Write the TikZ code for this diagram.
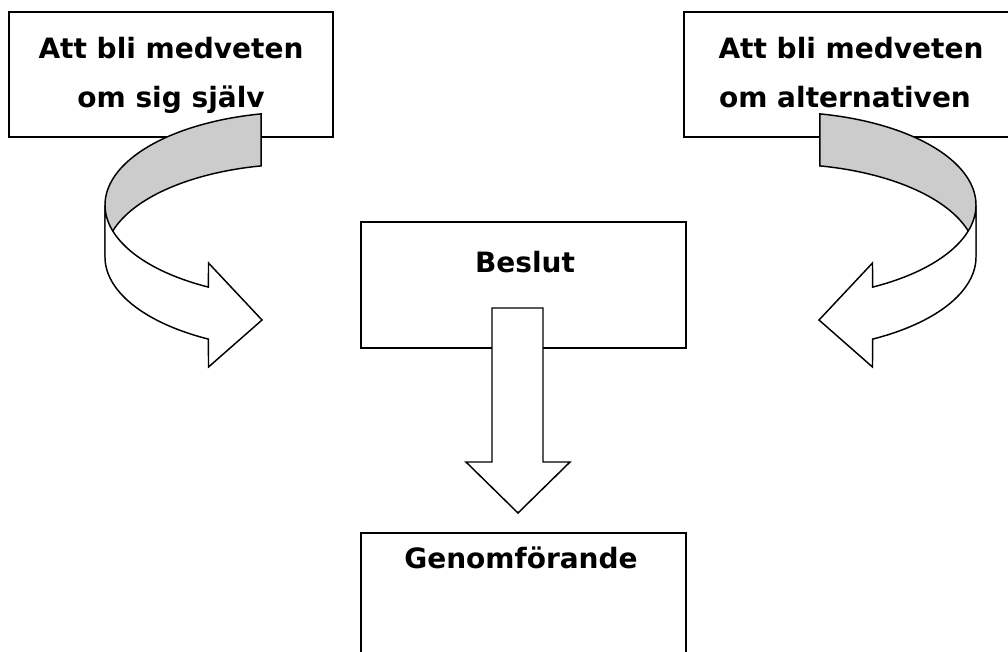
\documentclass[tikz,border=0pt]{standalone}
\usepackage{fontspec}
\setmainfont{DejaVu Sans}
\definecolor{backgray}{RGB}{204,204,204}
\tikzset{
  box/.style={draw=black, line width=1.2pt, fill=white, rectangle, inner sep=0pt},
  lbl/.style={font=\fontsize{21}{25}\selectfont\bfseries, inner sep=0pt, anchor=base},
  ribbon/.style={draw=black, line width=1.1pt, line join=miter},
}
\newcommand\ribbonarrow{%
  % back band (grey)
  \draw[ribbon, fill=backgray]
    plot[domain=258.5:180, samples=60] ({300+195*cos(\x)},{205+93*sin(\x)})
    -- plot[domain=180:258.5, samples=60] ({300+195*cos(\x)},{257+93*sin(\x)})
    -- cycle;
  % front band with head (white)
  \draw[ribbon, fill=white]
    plot[domain=180:118, samples=60] ({300+195*cos(\x)},{205+93*sin(\x)})
    -- (208.5,263) -- (262,320) -- (208.5,367)
    -- plot[domain=118:180, samples=60] ({300+195*cos(\x)},{257+93*sin(\x)})
    -- cycle;
}
\begin{document}
\begin{tikzpicture}[x=0.75pt, y=-0.75pt]
\useasboundingbox (0,0) rectangle (1008,651);
\clip (0,0) rectangle (1008,651);
\fill[white] (0,0) rectangle (1008,651);
% boxes
\node[box, minimum width=243pt, minimum height=93.75pt] (self) at (171,74.5) {};
\node[box, minimum width=259.5pt, minimum height=93.75pt] (alt) at (857,74.5) {};
\node[box, minimum width=243.75pt, minimum height=94.5pt] (beslut) at (523.5,285) {};
\node[box, minimum width=243.75pt, minimum height=110.25pt] (genom) at (523.5,606.5) {};
% curved arrows
\begin{scope}
  \ribbonarrow
\end{scope}
\begin{scope}[shift={(1081,0)}, xscale=-1]
  \ribbonarrow
\end{scope}
% down block arrow
\draw[ribbon, fill=white] (492,308) -- (543,308) -- (543,462) -- (570,462)
  -- (518,513) -- (466,462) -- (492,462) -- cycle;
% texts
\node[lbl] (t1) at (171,58) {Att bli medveten};
\node[lbl] (t2) at (171,107) {om sig själv};
\node[lbl] (t3) at (851,58) {Att bli medveten};
\node[lbl] (t4) at (845,107) {om alternativen};
\node[lbl] (t5) at (525,272) {Beslut};
\node[lbl] (t6) at (521,568) {Genomförande};
\end{tikzpicture}
\end{document}
